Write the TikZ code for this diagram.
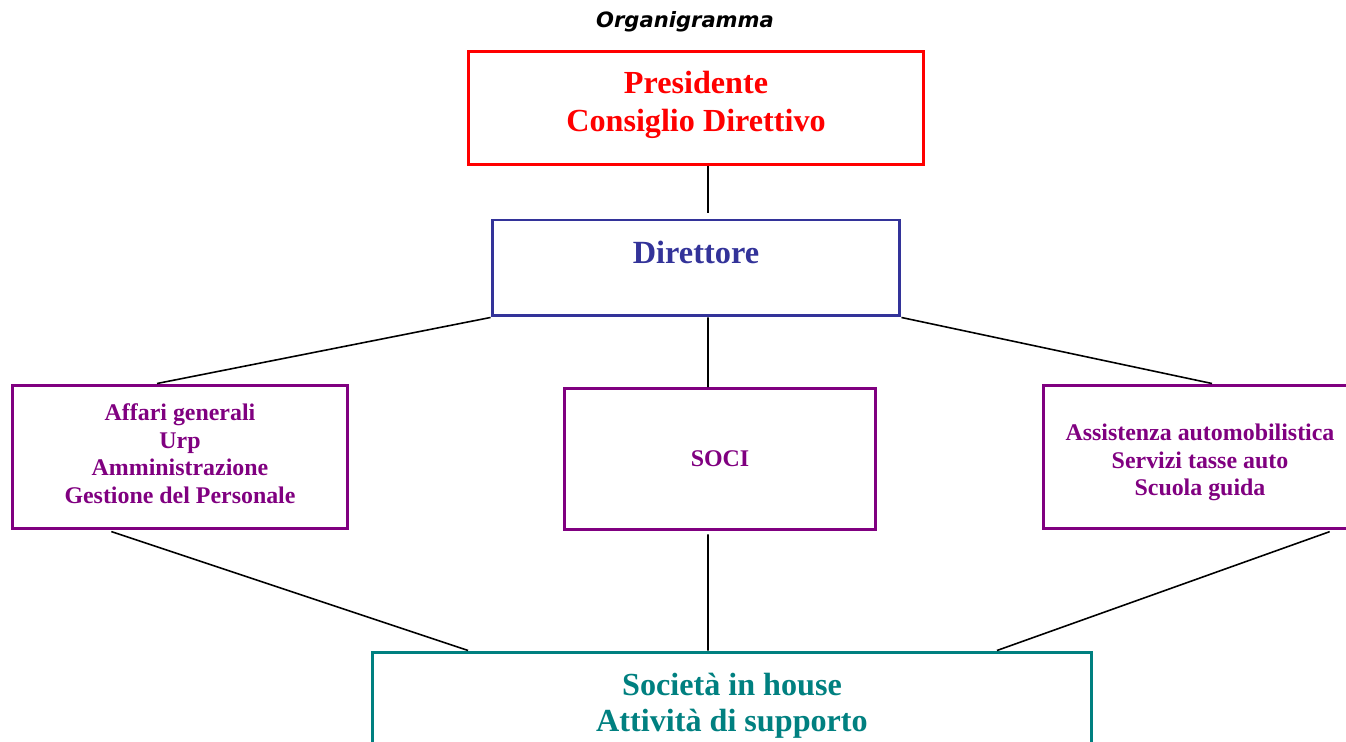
\documentclass[tikz,border=0pt]{standalone}
\usepackage{fontspec}
\setmainfont{Liberation Serif}
\newfontfamily\titlefont{DejaVu Sans}
\usepackage{xcolor}
\usetikzlibrary{positioning}
\definecolor{presred}{HTML}{FF0000}
\definecolor{dirblue}{HTML}{333399}
\definecolor{uffpurple}{HTML}{800080}
\definecolor{socteal}{HTML}{008080}

\begin{document}
\begin{tikzpicture}
            [x=0.02cm,y=-0.02cm,
             box/.style ={draw,rectangle,line width=1.7pt,align=center,font=\bfseries},
             link/.style ={line width=0.9pt,black}]
            \useasboundingbox (0,0) rectangle (1346,742);
            \clip (0,0) rectangle (1346,742);
            \node[font=\titlefont\bfseries\itshape\fontsize{12}{14}\selectfont] (title) at (685,22) {Organigramma};
            \node[box][presred,minimum width=9.12cm,minimum height=2.26cm,font=\bfseries\fontsize{18.3}{21.5}\selectfont] (pres) at (696,108) {Presidente\\Consiglio Direttivo\\[-14.2pt]};
            \node[box][dirblue,minimum width=8.16cm,minimum height=1.92cm,font=\bfseries\fontsize{18.4}{21.5}\selectfont] (dir) at (696,268) {Direttore\\[-4pt] ~};
            \node[box][uffpurple,minimum width=6.72cm,minimum height=2.88cm,font=\bfseries\fontsize{13.6}{15.7}\selectfont] (aff) at (180,457) {Affari generali\\Urp\\Amministrazione\\Gestione del Personale\\[-12pt]};
            \node[box][uffpurple,minimum width=6.24cm,minimum height=2.82cm,font=\bfseries\fontsize{13.6}{15.7}\selectfont] (soci) at (720,459) {SOCI};
            \node[box][uffpurple,minimum width=6.28cm,minimum height=2.88cm,font=\bfseries\fontsize{13.6}{15.7}\selectfont] (ass) at (1200,457) {Assistenza automobilistica\\Servizi tasse auto\\Scuola guida\\[-19.1pt]};
            \node[box][socteal,minimum width=14.4cm,minimum height=2cm,font=\bfseries\fontsize{18.3}{20.4}\selectfont] (soc) at (732,702) {Società in house\\Attività di supporto\\[-20.4pt]};
            % connectors
            \draw[link,shorten >=3pt] ([xshift=0.24cm]pres.south) to ([xshift=0.24cm]dir.north);
            \draw[link] (dir.south west) to ([xshift=-0.46cm]aff.north);
            \draw[link] ([xshift=0.24cm]dir.south) to ([xshift=-0.24cm]soci.north);
            \draw[link] (dir.south east) to ([xshift=0.24cm]ass.north);
            \draw[link,shorten <=2pt] ([xshift=-1.44cm]aff.south) to ([xshift=-5.28cm]soc.north);
            \draw[link,shorten <=2pt] ([xshift=-0.24cm]soci.south) to ([xshift=-0.48cm]soc.north);
            \draw[link,shorten <=2pt] ([xshift=2.66cm]ass.south) to ([xshift=5.3cm]soc.north);
        \end{tikzpicture}
\end{document}
